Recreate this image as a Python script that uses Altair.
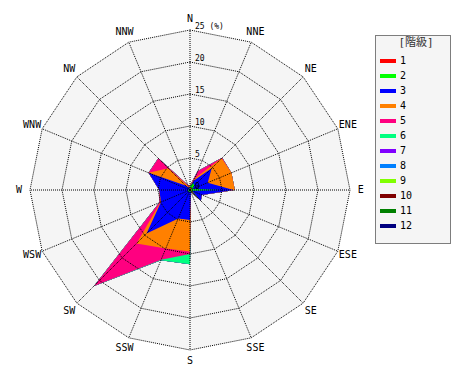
import altair as alt
import pandas as pd
import numpy as np

# ---------------- data ----------------
directions = ["N", "NNE", "NE", "ENE", "E", "ESE", "SE", "SSE",
              "S", "SSW", "SW", "WSW", "W", "WNW", "NW", "NNW"]
classes = [1, 2, 3, 4, 5, 6, 7, 8, 9, 10, 11, 12]
class_colors = ["#ff0000", "#00ff00", "#0000ff", "#ff8000", "#ff0080", "#00ff80",
                "#8000ff", "#0080ff", "#80ff00", "#800000", "#008000", "#000080"]

# frequency (%) per speed class, per direction (N clockwise)
class1 = [0.2, 0.5, 0.3, 0.2, 0.2, 0.2, 2.2, 0.1, 0.1, 0.1, 0.1, 0.1, 0.1, 0.1, 0.1, 0.1]
class2 = [0.3, 0.7, 0.7, 0.2, 4.5, 0.1, 0.0, 0.1, 0.2, 0.2, 0.2, 0.2, 0.2, 0.1, 0.1, 0.1]
class3 = [0.1, 0.4, 3.8, 2.6, 2.1, 1.7, 0.2, 0.2, 4.4, 4.5, 9.3, 4.6, 4.5, 6.8, 0.8, 0.2]
class4 = [0.1, 0.4, 2.2, 4.0, 0.2, 0.0, 0.0, 0.0, 4.9, 5.1, 2.2, 0.1, 0.0, 0.0, 3.8, 0.2]
class5 = [0.0, 1.2, 0.1, 0.0, 0.0, 0.0, 0.0, 0.0, 0.4, 1.9, 9.4, 0.2, 0.0, 0.0, 2.2, 0.2]
class6 = [0.0, 0.0, 0.0, 0.0, 0.0, 0.0, 0.0, 0.0, 1.6, 0.1, 0.0, 0.0, 0.0, 0.0, 0.0, 0.0]
class7 = [0.0] * 16
class8 = [0.0] * 16
class9 = [0.0] * 16
class10 = [0.0] * 16
class11 = [0.0] * 16
class12 = [0.0] * 16
class_values = [class1, class2, class3, class4, class5, class6,
                class7, class8, class9, class10, class11, class12]

ring_values = [5, 10, 15, 20, 25]
ring_label_values = [0, 5, 10, 15, 20, 25]
ring_label_texts = ["0", "5", "10", "15", "20", "25 (%)"]
r_max = 25
dir_label_r = 26.7

# ---------------- derived tables ----------------
theta = np.deg2rad(np.arange(16) * 22.5)
sin_t, cos_t = np.sin(theta), np.cos(theta)

cum = np.cumsum(np.array(class_values), axis=0)
poly_rows = []
for k, c in enumerate(classes):
    for i in range(17):
        j = i % 16
        poly_rows.append({"cls": c, "idx": i,
                          "x": cum[k][j] * sin_t[j], "y": cum[k][j] * cos_t[j]})
poly_df = pd.DataFrame(poly_rows)

ring_rows = []
for r in ring_values:
    for i in range(17):
        j = i % 16
        ring_rows.append({"ring": r, "idx": i, "x": r * sin_t[j], "y": r * cos_t[j]})
ring_df = pd.DataFrame(ring_rows)
bg_df = ring_df[ring_df["ring"] == r_max]

spoke_df = pd.DataFrame({"x": [0.0] * 16, "y": [0.0] * 16,
                         "x2": r_max * sin_t, "y2": r_max * cos_t})
dir_df = pd.DataFrame({"label": directions,
                       "x": dir_label_r * sin_t, "y": dir_label_r * cos_t})
rl_df = pd.DataFrame({"label": ring_label_texts,
                      "x": [0.0] * len(ring_label_values), "y": ring_label_values})

# ---------------- chart ----------------
xs = alt.Scale(domain=[-r_max, r_max], nice=False, zero=False)
ys = alt.Scale(domain=[-r_max, r_max], nice=False, zero=False)
X = alt.X("x:Q", scale=xs, axis=None)
Y = alt.Y("y:Q", scale=ys, axis=None)

color = alt.Color("cls:O",
                  scale=alt.Scale(domain=classes, range=class_colors),
                  legend=alt.Legend(orient="none", legendX=350, legendY=23,
                                    title=None, values=classes,
                                    symbolType="M-1,-0.25H1V0.25H-1Z",
                                    symbolSize=256, symbolStrokeWidth=0,
                                    symbolOpacity=1,
                                    labelFont="DejaVu Sans Mono", labelFontSize=10,
                                    labelColor="#000000", labelOffset=4,
                                    rowPadding=2, padding=0))

bg = alt.Chart(bg_df).mark_line(filled=True, fill="#f5f5f5", strokeWidth=0).encode(
    x=X, y=Y, order="idx:Q")

layers = [bg]
for c in reversed(classes):
    layers.append(
        alt.Chart(poly_df[poly_df["cls"] == c]).mark_line(
            filled=True, strokeWidth=0, opacity=1).encode(
            x=X, y=Y, order="idx:Q", color=color)
    )

rings = alt.Chart(ring_df).mark_line(
    stroke="#000000", strokeWidth=1, strokeDash=[1, 1]).encode(
    x=X, y=Y, order="idx:Q", detail="ring:N")

spokes = alt.Chart(spoke_df).mark_rule(
    stroke="#000000", strokeWidth=1, strokeDash=[1, 1]).encode(
    x=X, y=Y, x2="x2:Q", y2="y2:Q")

dir_labels = alt.Chart(dir_df).mark_text(
    font="DejaVu Sans Mono", fontSize=10, color="#000000",
    align="center", baseline="middle").encode(x=X, y=Y, text="label:N")

ring_labels = alt.Chart(rl_df).mark_text(
    font="DejaVu Sans Mono", fontSize=8, color="#000000",
    align="left", baseline="middle", dx=5, dy=-3).encode(x=X, y=Y, text="label:N")

box_df = pd.DataFrame({"t": ["[階級]"]})
legend_box = alt.Chart(box_df).mark_rect(
    fill="#f5f5f5", stroke="#000000", strokeWidth=1, strokeDash=[1, 1]).encode(
    x=alt.value(345.5), x2=alt.value(420.5), y=alt.value(5.5), y2=alt.value(213.5))
legend_title = alt.Chart(box_df).mark_text(
    font="DejaVu Sans Mono, Noto Sans CJK JP", fontSize=11, color="#333333",
    align="center", baseline="middle").encode(
    x=alt.value(386), y=alt.value(13), text="t:N")

layers += [rings, spokes, dir_labels, ring_labels, legend_box, legend_title]

chart = alt.layer(*layers).properties(
    width=320, height=320,
    autosize=alt.AutoSizeParams(type="none"),
    padding={"left": 22, "top": 22, "right": 112, "bottom": 22},
).configure_view(stroke="transparent")

chart.save("out.html", embed_options={"renderer": "svg", "actions": False})
